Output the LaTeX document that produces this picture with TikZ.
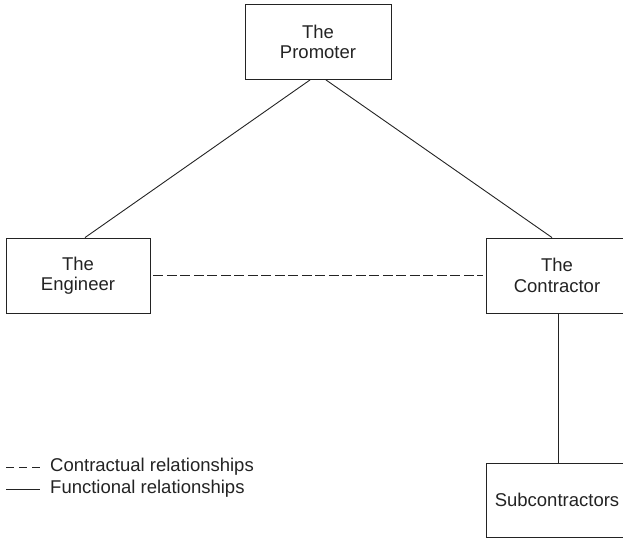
\documentclass[tikz,border=0pt]{standalone}
\usepackage{fontspec}
\setmainfont{Liberation Sans}
\usetikzlibrary{positioning,calc}
\definecolor{InkGrey}{RGB}{35,35,35}

\begin{document}
\begin{tikzpicture}[
    x=1pt, y=-1pt,
    party/.style={draw=InkGrey, line width=0.9pt, align=center, inner sep=0pt,
        font=\fontsize{18.5}{20.5}\selectfont, text=InkGrey},
    functional/.style={draw=InkGrey, line width=0.9pt},
    contractual/.style={draw=InkGrey, line width=0.9pt, dash pattern=on 10pt off 3.5pt},
    legendtext/.style={font=\fontsize{18.5}{20.5}\selectfont, text=InkGrey, anchor=west, inner sep=0pt}
]
\useasboundingbox (0,0) rectangle (623,539);
\clip (0,0) rectangle (623,539);

% parties
\node[party, minimum width=146pt, minimum height=75pt] (promoter) at (318,42) {The\\Promoter};
\node[party, minimum width=144pt, minimum height=75pt] (engineer) at (78,275.5) {The\\Engineer};
\node[party, minimum width=142pt, minimum height=75pt] (contractor) at (557,275.5) {The\\Contractor};
\node[party, minimum width=142pt, minimum height=74pt] (subs) at (557,500) {Subcontractors};

% relationships
\draw[functional] ($(promoter.south)+(-8,0)$) -- ($(engineer.north)+(7,0)$);
\draw[functional] ($(promoter.south)+(8,0)$) -- ($(contractor.north)+(-5,0)$);
\draw[functional] ($(contractor.south)+(1,0)$) -- ($(subs.north)+(1,0)$);
\draw[contractual] ($(engineer.east)+(3,0)$) -- ($(contractor.west)+(-3,0)$);

% legend
\node[legendtext] (legcon) at (50,467) {Contractual relationships};
\node[legendtext] (legfun) at (50,489) {Functional relationships};
\draw[draw=InkGrey, line width=0.9pt, dash pattern=on 8pt off 5pt] ($(legcon.west)+(-44,0)$) -- ($(legcon.west)+(-10,0)$);
\draw[functional] ($(legfun.west)+(-44,0)$) -- ($(legfun.west)+(-10,0)$);
\end{tikzpicture}
\end{document}
